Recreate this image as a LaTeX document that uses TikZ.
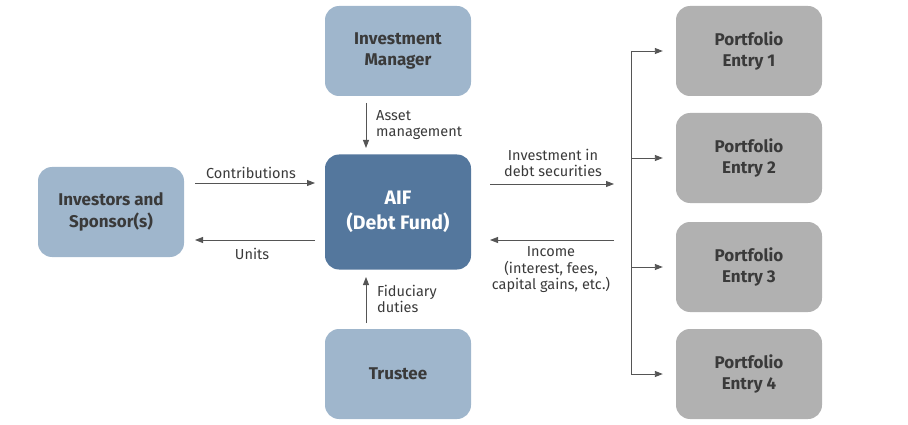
\documentclass[tikz,border=0pt]{standalone}
\usepackage{fontspec}
\setmainfont{Fira Sans}
\usetikzlibrary{arrows.meta}
\definecolor{lightblue}{HTML}{9FB6CC}
\definecolor{darkblue}{HTML}{54779D}
\definecolor{boxgray}{HTML}{B1B1B1}
\definecolor{txt}{HTML}{3A3A3A}
\definecolor{arr}{HTML}{555555}
\begin{document}
\begin{tikzpicture}[x=1pt,y=-1pt,
  box/.style={rounded corners=14pt, minimum width=146pt, minimum height=90pt, inner sep=0pt, align=center, text=txt, font=\fontsize{17}{21.5}\selectfont\bfseries},
  bluebox/.style={box, fill=lightblue},
  aifbox/.style={box, fill=darkblue, text=white, minimum height=115pt, font=\fontsize{19.5}{25}\selectfont\bfseries},
  graybox/.style={box, fill=boxgray},
  lbl/.style={text=txt, font=\fontsize{14.5}{16.5}\selectfont, inner sep=0pt},
  conn/.style={draw=arr, line width=0.9pt, -{Triangle[length=8pt,width=6pt]}}]
\useasboundingbox (0,0) rectangle (908,425);
\node[bluebox] (im) at (398,51) {Investment\\Manager};
\node[aifbox] (aif) at (398,212) {AIF\\(Debt Fund)};
\node[bluebox] (tr) at (398,374) {Trustee};
\node[bluebox] (inv) at (111,212) {Investors and\\Sponsor(s)};
\node[graybox] (p1) at (749,51) {Portfolio\\Entry 1};
\node[graybox] (p2) at (749,158) {Portfolio\\Entry 2};
\node[graybox] (p3) at (749,267) {Portfolio\\Entry 3};
\node[graybox] (p4) at (749,374) {Portfolio\\Entry 4};
% vertical links
\coordinate (amS) at (366,103);
\coordinate (amE) at (366,148);
\draw[conn] (amS) -- (amE);
\node[lbl, anchor=west, align=left] (aml) at (376,125) {Asset\\management};
\coordinate (fdS) at (366,323);
\coordinate (fdE) at (366,277);
\draw[conn] (fdS) -- (fdE);
\node[lbl, anchor=west, align=left] (fdl) at (377,299) {Fiduciary\\duties};
% investors
\coordinate (cS) at (195,183);
\coordinate (cE) at (315,183);
\draw[conn] (cS) -- (cE);
\node[lbl] (cl) at (251,173) {Contributions};
\coordinate (uS) at (315,240);
\coordinate (uE) at (195,240);
\draw[conn] (uS) -- (uE);
\node[lbl] (ul) at (252,254) {Units};
% portfolio
\coordinate (iS) at (490,184);
\coordinate (iE) at (614,184);
\draw[conn] (iS) -- (iE);
\node[lbl, align=center] (il) at (553,163) {Investment in\\debt securities};
\coordinate (nS) at (614,240);
\coordinate (nE) at (490,240);
\draw[conn] (nS) -- (nE);
\node[lbl, align=center] (nl) at (551,270) {Income\\(interest, fees,\\capital gains, etc.)};
\coordinate (vT) at (631,51);
\coordinate (vB) at (631,374);
\draw[draw=arr, line width=0.9pt] (vT) -- (vB);
\foreach \p/\yy in {p1/51,p2/158,p3/267,p4/374}{
  \draw[conn] (631,\yy) -- ([xshift=-13pt]\p.west);
}
\end{tikzpicture}
\end{document}
